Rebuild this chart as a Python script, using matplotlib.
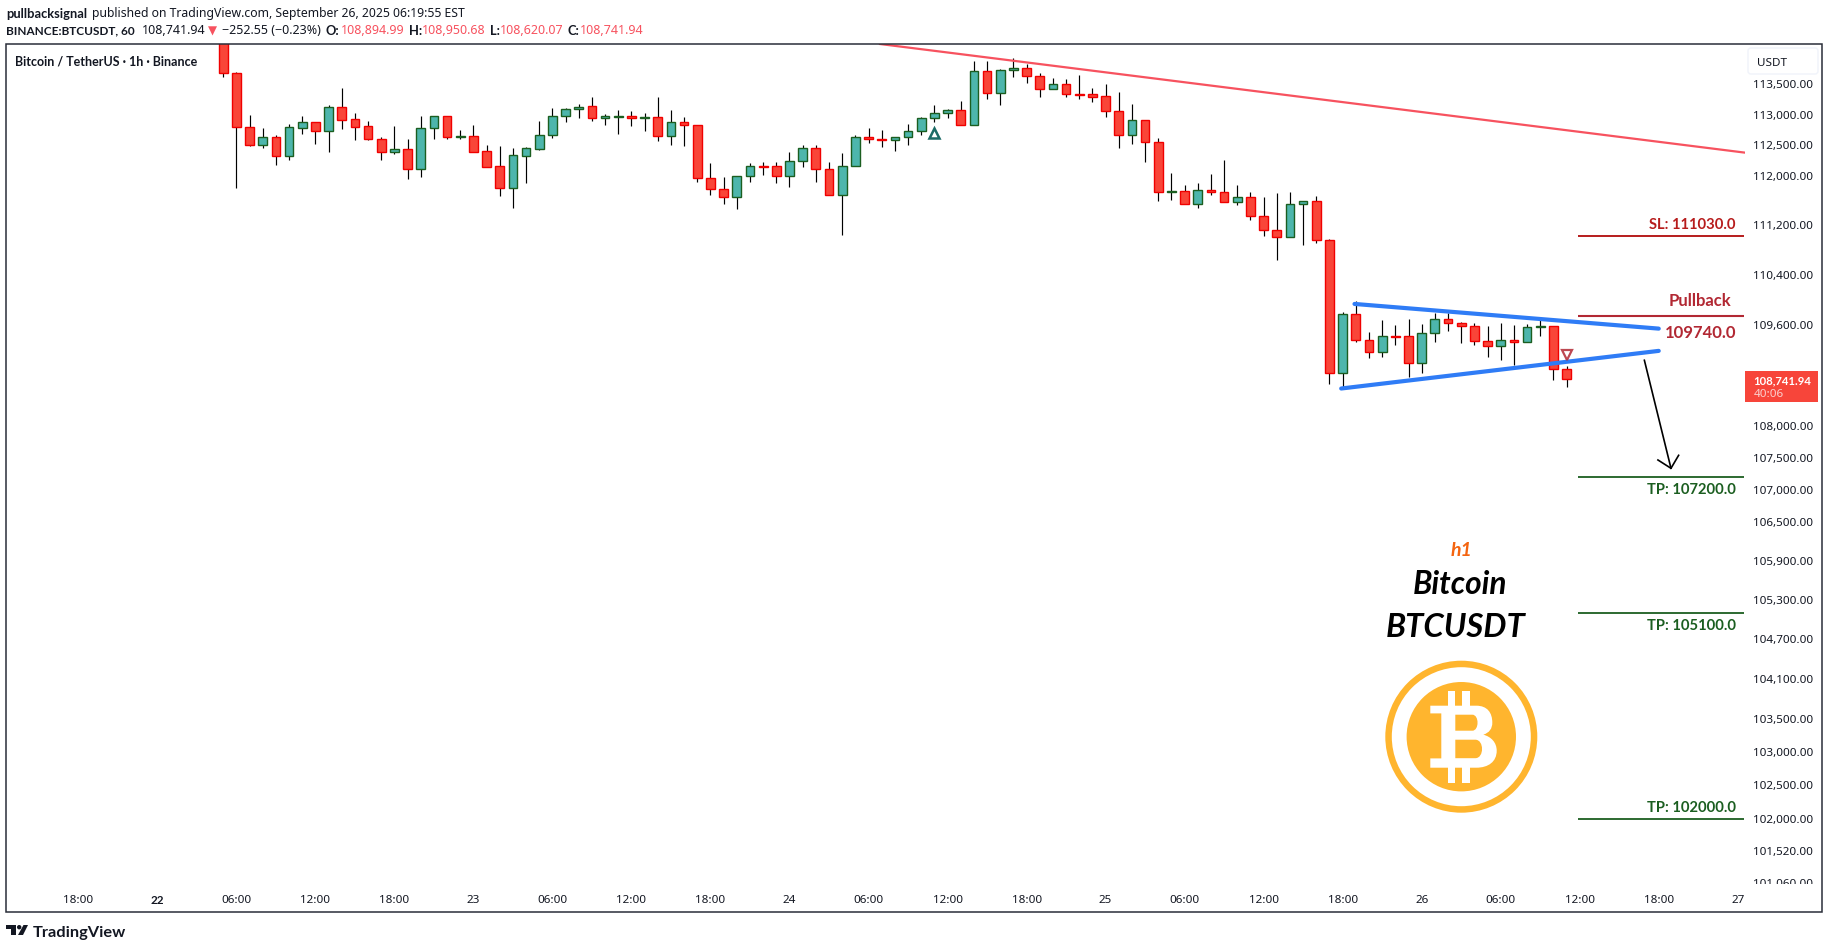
import matplotlib
matplotlib.use("Agg")
import matplotlib.pyplot as plt
import numpy as np
from matplotlib.patches import Circle, FancyBboxPatch, PathPatch, Polygon, Rectangle
from matplotlib.path import Path
from matplotlib.transforms import Affine2D, Bbox

plt.rcParams['font.family'] = ['Noto Sans', 'DejaVu Sans']

# hours counted from Sep 22 06:00
hours = np.arange(-1, 102)

opens = [
    114400, 113684, 112794, 112511, 112631, 112330, 112789, 112876, 112740, 113123,
    112926, 112811, 112598, 112396, 112434, 112118, 112778, 112975, 112642, 112648,
    112401, 112156, 111809, 112330, 112445, 112663, 112975, 113090, 113139, 112942,
    112970, 112975, 112954, 112959, 112648, 112876, 112827, 111961, 111782, 111652,
    111993, 112160, 112156, 111993, 112238, 112451, 112107, 111685, 112156, 112631,
    112600, 112582, 112631, 112729, 112942, 113024, 113074, 112827, 113717, 113354,
    113734, 113767, 113634, 113420, 113502, 113340, 113337, 113304, 113057, 112663,
    112909, 112549, 111745, 111750, 111539, 111766, 111733, 111571, 111652, 111344,
    111118, 111005, 111539, 111587, 110957, 108830, 109769, 109354, 109164, 109420,
    109418, 108989, 109466, 109689, 109625, 109577, 109338, 109259, 109354, 109322,
    109572, 109577, 108894.99]
highs = [
    114600, 113701, 112997, 112784, 112669, 112849, 112981, 112880, 113161, 113442,
    113030, 112898, 112631, 112816, 112603, 112981, 112975, 112975, 112751, 112833,
    112505, 112489, 112456, 112472, 112898, 113107, 113107, 113178, 113288, 113013,
    113074, 113057, 113030, 113288, 113074, 112959, 112827, 112205, 111977, 111993,
    112205, 112221, 112221, 112385, 112500, 112500, 112221, 112369, 112663, 112778,
    112751, 112631, 112849, 112959, 113161, 113090, 113228, 113883, 113883, 113750,
    113932, 113839, 113690, 113601, 113585, 113651, 113436, 113502, 113370, 113173,
    112909, 112614, 112042, 111847, 111880, 112026, 112254, 111847, 111733, 111652,
    111717, 111733, 111587, 111668, 110973, 109800, 109976, 109481, 109672, 109593,
    109689, 109609, 109785, 109785, 109641, 109625, 109577, 109625, 109599, 109609,
    109672, 109577, 108950.68]
lows = [
    113629, 111809, 112489, 112461, 112178, 112260, 112685, 112522, 112390, 112767,
    112587, 112592, 112260, 112358, 111950, 111982, 112603, 112603, 112603, 112396,
    112151, 111674, 111479, 111885, 112429, 112625, 112887, 112953, 112904, 112838,
    112691, 112822, 112740, 112576, 112511, 112494, 111907, 111695, 111550, 111469,
    111907, 112020, 111890, 111825, 112151, 111907, 111685, 111048, 112156, 112543,
    112478, 112412, 112511, 112675, 112887, 112953, 112827, 112827, 113266, 113167,
    113629, 113530, 113299, 113420, 113299, 113266, 113217, 112970, 112461, 112527,
    112232, 111598, 111614, 111539, 111474, 111690, 111571, 111533, 111290, 111026,
    110646, 111005, 110887, 110919, 108667, 108609, 109322, 109069, 109085, 109275,
    108777, 108830, 109322, 109498, 109306, 109275, 109095, 109037, 108957, 109322,
    109418, 108720, 108620.07]
closes = [
    113684, 112794, 112511, 112631, 112330, 112794, 112876, 112740, 113123, 112921,
    112805, 112598, 112396, 112434, 112118, 112778, 112975, 112642, 112648, 112396,
    112151, 111809, 112336, 112451, 112663, 112975, 113090, 113134, 112942, 112975,
    112975, 112942, 112959, 112648, 112876, 112827, 111961, 111782, 111652, 111993,
    112156, 112153, 111993, 112238, 112451, 112107, 111685, 112156, 112631, 112598,
    112594, 112631, 112729, 112942, 113024, 113074, 112827, 113717, 113354, 113734,
    113767, 113634, 113420, 113502, 113337, 113334, 113299, 113057, 112663, 112909,
    112549, 111733, 111750, 111539, 111766, 111733, 111571, 111652, 111344, 111118,
    111005, 111539, 111587, 110957, 108830, 109769, 109354, 109164, 109418, 109414,
    108989, 109466, 109689, 109625, 109577, 109338, 109259, 109354, 109322, 109561,
    109577, 108894, 108741.94]

price_ticks = [113500, 113000, 112500, 112000, 111200, 110400, 109600, 108800, 108000, 107500, 107000,
               106500, 105900, 105300, 104700, 104100, 103500, 103000, 102500, 102000, 101520, 101060]
time_ticks = [-12, -6, 0, 6, 12, 18, 24, 30, 36, 42, 48, 54, 60, 66, 72, 78, 84, 90, 96, 102, 108, 114]
time_labels = ['18:00', '22', '06:00', '12:00', '18:00', '23', '06:00', '12:00', '18:00', '24', '06:00',
               '12:00', '18:00', '25', '06:00', '12:00', '18:00', '26', '06:00', '12:00', '18:00', '27']

DARK = '#131722'
RED_FILL, RED_EDGE = '#f94538', '#f00000'
GREEN_FILL, GREEN_EDGE = '#4db6ac', '#1b5e20'
MAROON = '#b22833'
SL_RED = '#b71c1c'
TP_GREEN = '#1b5e20'
BLUE = '#2f7cf6'
GOLD = '#ffb52e'
FS = 8.4
BOLD = ['Lato', 'DejaVu Sans']

fig = plt.figure(figsize=(18.29, 9.49), dpi=100, facecolor='white')
# pixel coordinates measured from the top left of the picture
px = Affine2D().scale(1, -1).translate(0, 949)
ax = fig.add_axes([6 / 1829, 1 - 883 / 949, (1745 - 6) / 1829, (883 - 44) / 949])
ax.set_yscale('log')

for spine in ax.spines.values():
    spine.set_visible(False)

# candles
falling = np.array(closes) < np.array(opens)
tops = np.maximum(opens, closes)
bottoms = np.minimum(opens, closes)
ax.vlines(hours, lows, highs, color='black', lw=0.85, zorder=2)
ax.bar(hours, tops - bottoms, bottom=bottoms, width=0.66, zorder=3, linewidth=1.0,
       color=[RED_FILL if f else GREEN_FILL for f in falling],
       edgecolor=[RED_EDGE if f else GREEN_EDGE for f in falling])

# drawings
ax.plot([48.87, 114.55], [114170, 112380], color='#f7525f', lw=1.6, zorder=4)
ax.plot([84.90, 108.0], [109934, 109540], color=BLUE, lw=3.0, solid_capstyle='round', zorder=5)
ax.plot([83.89, 108.0], [108590, 109186], color=BLUE, lw=3.0, solid_capstyle='round', zorder=5)

ax.plot([106.91, 108.93], [109037, 107337], color='black', lw=1.2, zorder=5)
ax.plot([107.94, 108.93, 109.51], [107467, 107337, 107540], color='black', lw=1.2, zorder=5)

ax.plot([53], [112708], marker='^', ms=7, mfc='none', mec='#1c6b66', mew=1.8, zorder=5)
ax.plot([101], [109121], marker='v', ms=7.5, mfc='none', mec=MAROON, mew=1.6, alpha=0.85, zorder=5)

ax.hlines(111030, 101.87, 114.47, color=SL_RED, lw=1.4, zorder=4)
ax.hlines(109740, 101.87, 114.47, color=MAROON, lw=1.5, zorder=4)
ax.hlines([107200, 105100, 102000], 101.87, 114.47, color=TP_GREEN, lw=1.3, zorder=4)

level_font = dict(fontfamily=BOLD, fontweight='bold', ha='right', va='center')
ax.text(113.86, 111203, 'SL: 111030.0', color=SL_RED, fontsize=10.6, **level_font)
ax.text(113.48, 109977, 'Pullback', color=MAROON, fontsize=12, **level_font)
ax.text(113.9, 109476, '109740.0', color=MAROON, fontsize=12, **level_font)
ax.text(113.86, 107000, 'TP: 107200.0', color=TP_GREEN, fontsize=10.6, **level_font)
ax.text(113.86, 104897, 'TP: 105100.0', color=TP_GREEN, fontsize=10.6, **level_font)
ax.text(113.86, 102157, 'TP: 102000.0', color=TP_GREEN, fontsize=10.6, **level_font)

# axes
ax.set_xlim(-17.49, 114.55)
ax.set_ylim(101054, 114170)
ax.yaxis.tick_right()
ax.minorticks_off()
ax.set_yticks(price_ticks, [f'{p:,.2f}' for p in price_ticks])
ax.yaxis.set_minor_locator(plt.NullLocator())
ax.set_xticks(time_ticks, time_labels)
ax.tick_params(axis='y', length=0, pad=5.8, labelsize=FS, labelcolor=DARK)
ax.tick_params(axis='x', length=0, pad=8.8, labelsize=FS, labelcolor=DARK)
ax.get_xticklabels()[1].set_fontfamily(BOLD)
ax.get_xticklabels()[1].set_fontweight('bold')
ax.get_yticklabels()[-1].set_clip_box(Bbox([[1745, 65], [1829, 949]]))
ax.get_yticklabels()[-1].set_clip_on(True)


def top_text(x, y, s, **kw):
    kw.setdefault('color', DARK)
    kw.setdefault('fontsize', 9)
    kw.setdefault('va', 'center')
    fig.text(x, y, s, transform=px, **kw)


# header
top_text(6, 13.5, 'pullbacksignal', fontfamily=BOLD, fontweight='bold', fontsize=9.3)
top_text(91.5, 13.5, 'published on TradingView.com, September 26, 2025 06:19:55 EST', fontsize=8.8)
top_text(6, 31, 'BINANCE:BTCUSDT, 60', fontfamily=BOLD, fontweight='bold', fontsize=8.5)
top_text(141.5, 31, '108,741.94')
top_text(208, 31, '▼', color='#f7525f', fontsize=8.5)
top_text(222, 31, '−252.55 (−0.23%)')
for lx, vx, lab, val in [(326, 340.6, 'O:', '108,894.99'), (409, 421.4, 'H:', '108,950.68'),
                         (490, 500, 'L:', '108,620.07'), (568, 580, 'C:', '108,741.94')]:
    top_text(lx, 31, lab, fontfamily=BOLD, fontweight='bold', fontsize=9.3)
    top_text(vx, 31, val, color='#f7525f')

top_text(15, 61.7, 'Bitcoin / TetherUS · 1h · Binance', fontfamily=BOLD, fontweight='bold', fontsize=9.0)

# frame and price box
fig.add_artist(Rectangle((6, 44), 1816, 868, transform=px, fill=False, edgecolor='#2a2e39', lw=1.1, zorder=2))
fig.add_artist(FancyBboxPatch((1750, 50), 66, 22, boxstyle='round,pad=2,rounding_size=3', transform=px,
                              facecolor='white', edgecolor='#f0f3fa', lw=1.0, zorder=2))
top_text(1756.7, 63, 'USDT', fontsize=FS)

fig.add_artist(Rectangle((1745, 370.7), 73, 31, transform=px, facecolor='#f7453a', edgecolor='none', zorder=2))
top_text(1753.3, 381, '108,741.94', color='white', fontfamily=BOLD, fontweight='bold', fontsize=8.2)
top_text(1753.3, 394.7, '40:06', color='#fbd0cd', fontsize=FS)

# title block
title_font = dict(color='black', fontfamily=BOLD, fontweight='bold', style='italic', ha='center')
top_text(1461.3, 550.7, 'h1', fontsize=14, **{**title_font, 'color': '#f4640f'})
top_text(1459.6, 584, 'Bitcoin', fontsize=22.8, **title_font)
top_text(1456, 627.3, 'BTCUSDT', fontsize=23.6, **title_font)

# bitcoin logo, built around its centre with y pointing up
logo = Affine2D().translate(1461.3, 949 - 736.7)
fig.add_artist(Circle((0, 0), 76, transform=logo, facecolor=GOLD, edgecolor='none', zorder=2))
fig.add_artist(Circle((0, 0), 69.5, transform=logo, facecolor='white', edgecolor='none', zorder=2))
fig.add_artist(Circle((0, 0), 54.7, transform=logo, facecolor=GOLD, edgecolor='none', zorder=2))
M, L, C, Z = Path.MOVETO, Path.LINETO, Path.CURVE4, Path.CLOSEPOLY
b_verts = [(-31, 31), (15, 31), (26, 31), (31, 24), (31, 14), (31, 8), (28, 4), (22, 2),
           (30, 0), (35.4, -6), (35.4, -14), (35.4, -25), (27, -31), (15, -31),
           (-31, -31), (-31, -21.7), (-20, -21.7), (-20, 23.3), (-31, 23.3), (-31, 31),
           (-6, 22), (-6, 6), (11, 6), (18, 6), (18, 22), (11, 22), (-6, 22),
           (-6, -3), (-6, -21.5), (14, -21.5), (23, -21.5), (23, -3), (14, -3), (-6, -3)]
b_codes = [M, L, C, C, C, C, C, C, C, C, C, C, C, C, L, L, L, L, L, Z,
           M, L, L, C, C, C, Z, M, L, L, C, C, C, Z]
fig.add_artist(PathPatch(Path(b_verts, b_codes), transform=logo, facecolor='white', edgecolor='none', zorder=3))
for bar_x, bar_w in [(-13.5, 6.8), (0.7, 8.4)]:
    for bar_y in (30, -46):
        fig.add_artist(Rectangle((bar_x, bar_y), bar_w, 16, transform=logo, facecolor='white',
                                 edgecolor='none', zorder=3))

# footer
fig.add_artist(Polygon([(6, 925), (15.5, 925), (15.5, 935), (10.5, 935), (10.5, 929), (6, 929)], transform=px,
                       facecolor=DARK, edgecolor='none'))
fig.add_artist(Circle((19.2, 927.2), 2.2, transform=px, facecolor=DARK, edgecolor='none'))
fig.add_artist(Polygon([(23.5, 925), (28, 925), (23, 935), (18, 935)], transform=px, facecolor=DARK, edgecolor='none'))
top_text(33, 932.5, 'TradingView', fontfamily=BOLD, fontsize=11.8, fontweight='bold')

fig.savefig('out.png', dpi=100)
